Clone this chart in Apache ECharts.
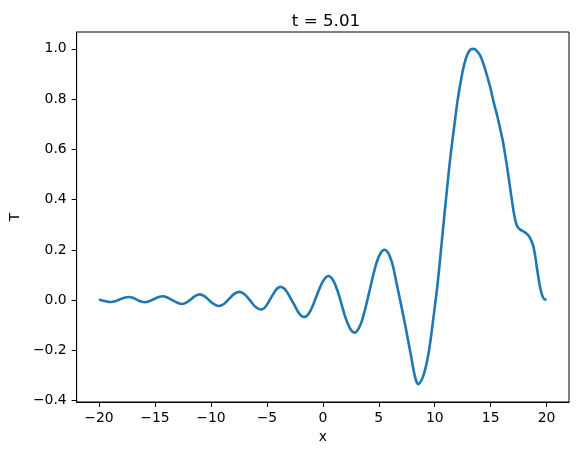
<!DOCTYPE html>
<html>
<head>
<meta charset="utf-8">
<script src="https://cdn.jsdelivr.net/npm/echarts@6/dist/echarts.min.js"></script>
<style>
html,body{margin:0;padding:0;background:#fff;}
#chart{width:578px;height:455px;}
</style>
</head>
<body>
<div id="chart"></div>
<script>
// Data
const xs = [
  -20, -19.5, -18.96, -18.55, -18.15, -17.75, -17.34, -16.98, -16.62, -16.26,
  -15.9, -15.51, -15.12, -14.72, -14.33, -13.89, -13.45, -13.0, -12.56, -12.17,
  -11.78, -11.39, -11.0, -10.58, -10.16, -9.73, -9.31, -8.84, -8.38, -7.92,
  -7.45, -6.97, -6.49, -6.01, -5.53, -5.31, -5.09, -4.87, -4.65, -4.42,
  -4.2, -3.98, -3.76, -3.50, -3.24, -2.98, -2.72, -2.45, -2.19, -1.93,
  -1.67, -1.40, -1.12, -0.85, -0.58, -0.30, -0.03, 0.25,
  0.52, 0.81, 1.10, 1.39, 1.68, 1.96, 2.25, 2.54, 2.83, 3.16,
  3.5, 3.83, 4.17, 4.5, 4.83, 5.17, 5.5, 5.88, 6.27, 6.6,
  6.91, 7.3, 7.6, 7.9, 8.2, 8.4, 8.55, 8.7, 8.9, 9.1,
  9.3, 9.5, 9.7, 9.97, 10.26, 10.56, 10.85, 11.15, 11.44, 11.74,
  12.03, 12.33, 12.62, 12.92, 13.2, 13.51, 13.8, 14.1, 14.39, 14.69,
  15.0, 15.28, 15.58, 15.87, 16.1, 16.32, 16.55, 16.76, 16.95, 17.1,
  17.25, 17.4, 17.6, 17.79, 18.0, 18.2, 18.38, 18.6, 18.82, 19.0,
  19.12, 19.25, 19.41, 19.6, 19.86, 20.0
];
const ys = [
  0.003, -0.003, -0.007, -0.004, 0.003, 0.010, 0.013, 0.010, 0.002, -0.005,
  -0.008, -0.004, 0.004, 0.012, 0.016, 0.011, 0.000, -0.010, -0.015, -0.009,
  0.004, 0.017, 0.023, 0.016, 0.000, -0.016, -0.023, -0.015, 0.005, 0.025,
  0.033, 0.023, -0.002, -0.027, -0.037, -0.034, -0.024, -0.009, 0.008, 0.025,
  0.040, 0.050, 0.053, 0.048, 0.036, 0.016, -0.005, -0.027, -0.048, -0.062,
  -0.067, -0.061, -0.043, -0.017, 0.015, 0.046, 0.072, 0.090,
  0.096, 0.087, 0.063, 0.027, -0.017, -0.060, -0.096, -0.120, -0.129, -0.116,
  -0.081, -0.027, 0.036, 0.099, 0.153, 0.188, 0.201, 0.185, 0.135, 0.065,
  0.000, -0.085, -0.155, -0.225, -0.298, -0.327, -0.334, -0.327, -0.310, -0.283,
  -0.246, -0.197, -0.135, -0.040, 0.066, 0.200, 0.332, 0.465, 0.585, 0.690,
  0.790, 0.871, 0.935, 0.977, 0.997, 1.000, 0.990, 0.970, 0.935, 0.891,
  0.840, 0.785, 0.735, 0.678, 0.630, 0.572, 0.505, 0.440, 0.382, 0.340,
  0.310, 0.292, 0.282, 0.277, 0.272, 0.265, 0.257, 0.240, 0.213, 0.170,
  0.133, 0.095, 0.053, 0.020, 0.003, 0.003
];
const xTicks = [-20, -15, -10, -5, 0, 5, 10, 15, 20];
const yTicks = [-0.4, -0.2, 0.0, 0.2, 0.4, 0.6, 0.8, 1.0];
const titleText = 't = 5.01';
const xName = 'x';
const yName = 'T';

const FONT = 'DejaVu Sans';
const minus = s => String(s).replace('-', '\u2212');
const pts = xs.map((x, i) => [x, ys[i]]);

const chart = echarts.init(document.getElementById('chart'), null, {renderer: 'canvas'});
chart.setOption({
  animation: false,
  backgroundColor: '#fff',
  title: {
    text: titleText,
    left: 321, top: 8, textAlign: 'center',
    textStyle: {fontFamily: FONT, fontSize: 16.7, fontWeight: 'normal', color: '#000'}
  },
  grid: {
    left: 73, right: 9, top: 32, bottom: 53,
    show: true, borderColor: '#000', borderWidth: 1, backgroundColor: 'transparent'
  },
  xAxis: {
    type: 'value', min: -22, max: 22,
    name: xName, nameLocation: 'middle', nameGap: 28,
    nameTextStyle: {fontFamily: FONT, fontSize: 13.9, color: '#000'},
    axisLine: {show: true, onZero: false, lineStyle: {color: '#000', width: 1}},
    axisTick: {show: true, length: 5, lineStyle: {color: '#000', width: 1}, customValues: xTicks},
    axisLabel: {show: true, margin: 9, fontFamily: FONT, fontSize: 13.9, color: '#000',
      customValues: xTicks, formatter: v => minus(Math.round(v))},
    splitLine: {show: false}
  },
  yAxis: {
    type: 'value', min: -0.405, max: 1.067,
    name: yName, nameLocation: 'middle', nameGap: 51, nameRotate: 90,
    nameTextStyle: {fontFamily: FONT, fontSize: 13.9, color: '#000'},
    axisLine: {show: true, onZero: false, lineStyle: {color: '#000', width: 1}},
    axisTick: {show: true, length: 5, lineStyle: {color: '#000', width: 1}, customValues: yTicks},
    axisLabel: {show: true, margin: 10, fontFamily: FONT, fontSize: 13.9, color: '#000',
      customValues: yTicks, formatter: v => (v < -1e-9 ? '\u2212' : '') + Math.abs(v).toFixed(1)},
    splitLine: {show: false}
  },
  series: [{
    type: 'line',
    data: pts,
    showSymbol: false,
    smooth: 0.3,
    lineStyle: {color: '#1f77b4', width: 2.6},
    itemStyle: {color: '#1f77b4'}
  }]
});
</script>
</body>
</html>
